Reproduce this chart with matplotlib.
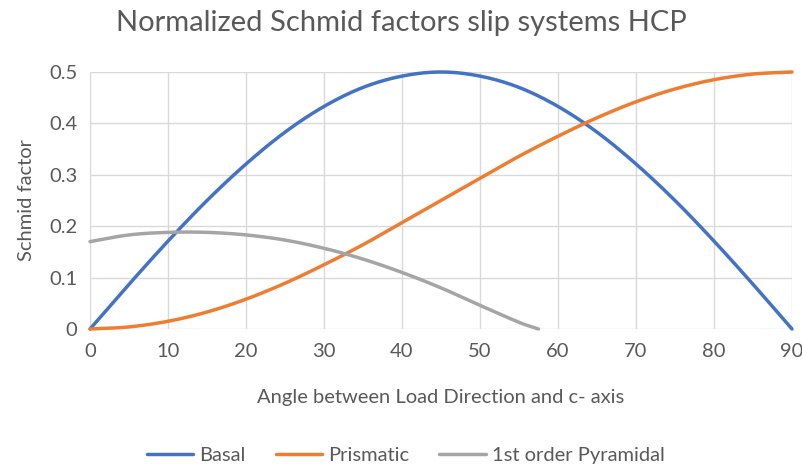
import numpy as np
import matplotlib
matplotlib.use("Agg")
import matplotlib.pyplot as plt

plt.rcParams['font.family'] = ['Lato', 'DejaVu Sans']

angles = [0, 5, 10, 15, 20, 25, 30, 35, 40, 45, 50, 55, 60, 65, 70, 75, 80, 85, 90]
basal = [0, 0.087, 0.171, 0.25, 0.321, 0.383, 0.433, 0.470, 0.492, 0.5,
         0.492, 0.470, 0.433, 0.383, 0.321, 0.25, 0.171, 0.087, 0]
prismatic = [0, 0.004, 0.015, 0.033, 0.058, 0.089, 0.125, 0.164, 0.207, 0.25,
             0.293, 0.336, 0.375, 0.411, 0.442, 0.467, 0.485, 0.496, 0.5]
pyr_angles = [0, 5, 10, 15, 20, 25, 30, 35, 40, 45, 50, 55, 57.5]
pyramidal = [0.170, 0.183, 0.188, 0.188, 0.183, 0.173, 0.157, 0.136, 0.110,
             0.080, 0.046, 0.013, 0]

series_names = ["Basal", "Prismatic", "1st order Pyramidal"]
colors = ["#4472C4", "#ED7D31", "#A5A5A5"]


def smooth(x, y, n=20):
    """Catmull-Rom curve through the points, like a smoothed line series."""
    x = np.asarray(x, float)
    y = np.asarray(y, float)
    px = np.concatenate([[2 * x[0] - x[1]], x, [2 * x[-1] - x[-2]]])
    py = np.concatenate([[2 * y[0] - y[1]], y, [2 * y[-1] - y[-2]]])
    xs, ys = [], []
    t = np.linspace(0, 1, n, endpoint=False)
    for i in range(1, len(px) - 2):
        for arr, out in ((px, xs), (py, ys)):
            p0, p1, p2, p3 = arr[i - 1], arr[i], arr[i + 1], arr[i + 2]
            out.extend(0.5 * ((2 * p1) + (-p0 + p2) * t
                              + (2 * p0 - 5 * p1 + 4 * p2 - p3) * t ** 2
                              + (-p0 + 3 * p1 - 3 * p2 + p3) * t ** 3))
    xs.append(x[-1])
    ys.append(y[-1])
    return np.array(xs), np.array(ys)


fig = plt.figure(figsize=(8.03, 4.66), dpi=100)
ax = fig.add_axes([0.1121, 0.294, 0.8742, 0.5515])

for (xv, yv), name, c in zip([(angles, basal), (angles, prismatic), (pyr_angles, pyramidal)],
                             series_names, colors):
    sx, sy = smooth(xv, yv)
    ax.plot(sx, sy, color=c, lw=2.5, label=name, solid_capstyle='round', clip_on=False)

ax.set_xlim(0, 90)
ax.set_ylim(0, 0.5)
ax.set_xticks(range(0, 91, 10))
ax.set_yticks([0, 0.1, 0.2, 0.3, 0.4, 0.5])
ax.set_yticklabels(["0", "0.1", "0.2", "0.3", "0.4", "0.5"])
ax.grid(True, color="#D9D9D9", lw=1)
ax.set_axisbelow(True)
for s in ax.spines.values():
    s.set_visible(False)
ax.tick_params(length=0, labelsize=14.5, colors="#595959")
ax.tick_params(axis="x", pad=10)
ax.tick_params(axis="y", pad=9)

ax.set_xlabel("Angle between Load Direction and c- axis", fontsize=14.5,
              color="#595959", labelpad=21)
ax.set_ylabel("Schmid factor", fontsize=14.5, color="#595959", labelpad=10)
fig.text(0.5, 0.950, "Normalized Schmid factors slip systems HCP", ha="center",
         va="center", fontsize=21, color="#595959")

leg = fig.legend(loc="center", bbox_to_anchor=(0.505, 0.022), ncol=3, frameon=False,
                 fontsize=14.5, handlelength=2.3, handletextpad=0.3, columnspacing=1.5)
for t in leg.get_texts():
    t.set_color("#595959")

fig.savefig("out.png", dpi=100)
